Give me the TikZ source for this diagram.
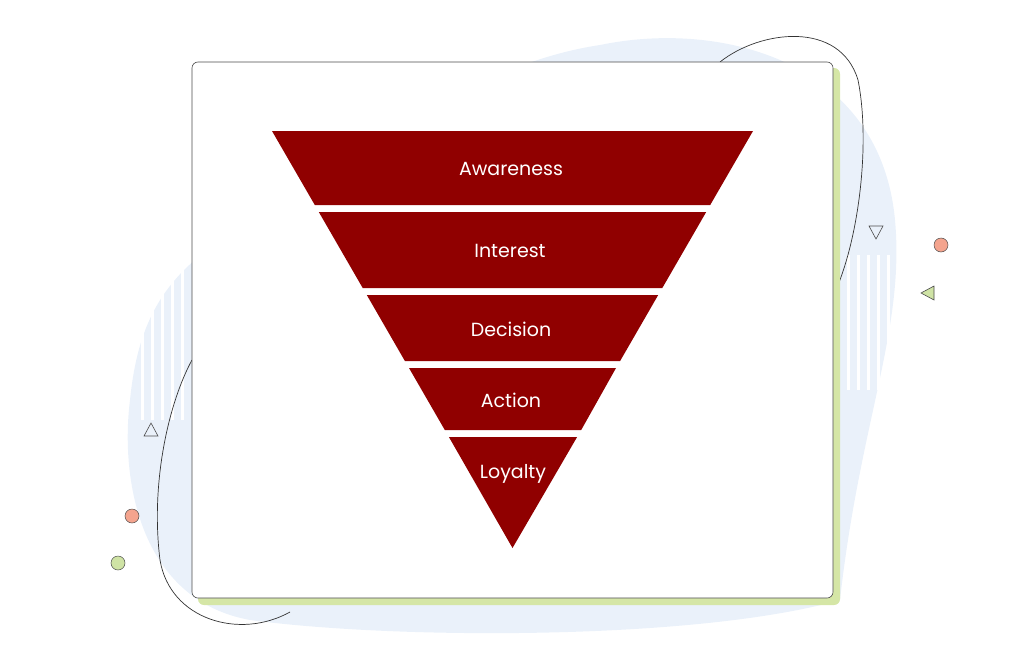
\documentclass[tikz,border=0pt]{standalone}
\usepackage{fontspec}
\setmainfont{Poppins}
\begin{document}
\begin{tikzpicture}[x=1pt,y=-1pt,
  band/.style={fill=funnel},
  lbl/.style={text=white,font=\fontsize{19}{22}\selectfont},
  stripe/.style={draw=white,line width=3pt}]
\definecolor{funnel}{HTML}{900000}
\definecolor{bgblue}{HTML}{EAF1FA}
\definecolor{lgreen}{HTML}{D5E6A6}
\definecolor{dot1}{HTML}{F4A48E}
\definecolor{dot2}{HTML}{CFE3A5}
\useasboundingbox (0,0) rectangle (1024,661);
% background blob
\fill[bgblue] (600,45) .. controls (720,20) and (880,60) .. (895,220)
  .. controls (905,330) and (860,420) .. (840,600)
  .. controls (700,640) and (400,640) .. (250,620)
  .. controls (140,600) and (120,480) .. (130,400)
  .. controls (140,300) and (180,250) .. (300,200)
  .. controls (400,120) and (500,60) .. (600,45) -- cycle;
% stripes
\foreach \x in {142,152,162,172,182} \draw[stripe] (\x,265) -- (\x,420);
\foreach \x in {848,858,868,878,888} \draw[stripe] (\x,255) -- (\x,390);
% black loop
\draw[black!80,line width=0.7pt] (290,612) .. controls (240,640) and (170,620) .. (160,560)
  .. controls (150,480) and (170,400) .. (192,360);
\draw[black!80,line width=0.7pt] (720,62) .. controls (760,30) and (840,20) .. (858,80)
  .. controls (870,140) and (860,230) .. (838,285);
% card
\fill[lgreen,rounded corners=6pt] (198,68) rectangle (840,605);
\draw[black!70,fill=white,rounded corners=6pt,line width=0.6pt] (192,62) rectangle (833,598);
% funnel
\fill[band] (272,131) -- (753,131) -- (710.2,205) -- (314.8,205) -- cycle;
\fill[band] (318.8,212) -- (706.2,212) -- (662.3,288) -- (362.7,288) -- cycle;
\fill[band] (366.8,295) -- (658.2,295) -- (620.1,361) -- (404.9,361) -- cycle;
\fill[band] (409,368) -- (616,368) -- (581.2,430) -- (444.8,430) -- cycle;
\fill[band] (448.9,437) -- (577.1,437) -- (512.5,548) -- cycle;
\node[lbl] (aw) at (511,169) {Awareness};
\node[lbl] (in) at (510,251) {Interest};
\node[lbl] (de) at (511,329) {Decision};
\node[lbl] (ac) at (511,400) {Action};
\node[lbl] (lo) at (513,474) {Loyalty};
% decorations
\draw[black!70,line width=0.6pt] (144,436) -- (158,436) -- (151,423) -- cycle;
\draw[black!70,line width=0.6pt] (869,226) -- (883,226) -- (876,239) -- cycle;
\draw[black!70,fill=dot2,line width=0.6pt] (921,293) -- (934,286) -- (934,300) -- cycle;
\draw[black!70,fill=dot1,line width=0.5pt] (941,245) circle (7);
\draw[black!70,fill=dot1,line width=0.5pt] (132,516) circle (7);
\draw[black!70,fill=dot2,line width=0.5pt] (118,563) circle (7);
\end{tikzpicture}
\end{document}
